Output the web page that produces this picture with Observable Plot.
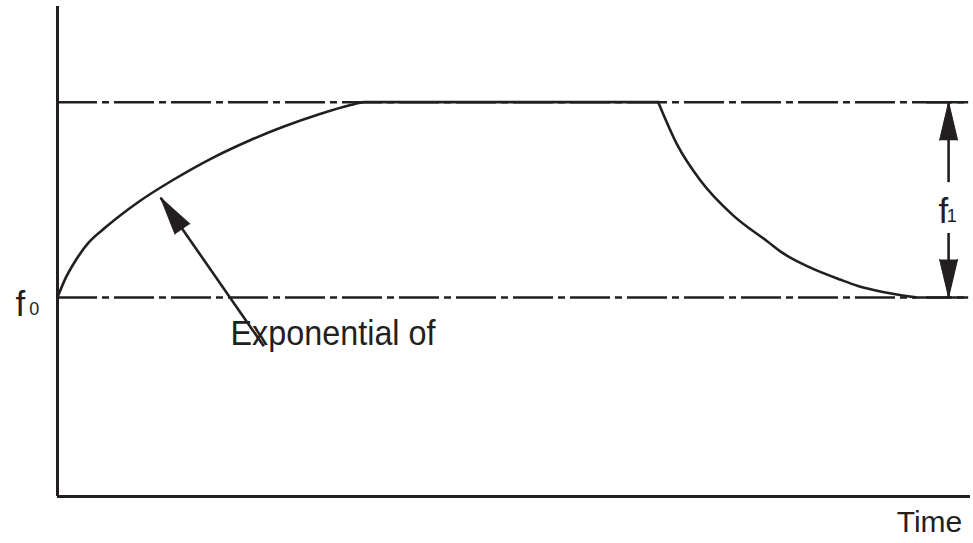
<!DOCTYPE html>
<html><head><meta charset="utf-8">
<script src="https://cdn.jsdelivr.net/npm/d3@7"></script>
<script src="https://cdn.jsdelivr.net/npm/@observablehq/plot@0.6"></script>
<style>body{margin:0;background:#fff}</style>
</head><body><div id="chart"></div>
<script>
// ---- data (time units 0..100, response in units of f1 above f0) ----
const levels = [0, 1];                       // f0 and f0 + f1
// rise towards f0 + f1, then hold (plateau)
const riseT = [0, 0.9, 2.0, 3.4, 5.3, 8.9, 12.6, 17.0, 21.1, 24.8, 28.5, 32.1, 33.6, 65.8];
const riseF = [0, 0.10, 0.19, 0.28, 0.36, 0.49, 0.60, 0.715, 0.805, 0.875, 0.935, 0.985, 1.0, 1.0];
// decay back to f0
const decayT = [65.8, 67.9, 70.4, 74.0, 77.8, 79.5, 82.1, 85.8, 87.6, 89.4, 94.0];
const decayF = [1.0, 0.78, 0.60, 0.42, 0.285, 0.225, 0.16, 0.09, 0.06, 0.038, 0];

// annotation arrows (tail -> tip, data units)
const arrowX1 = [22.6, 97.6, 97.6];
const arrowY1 = [-0.25, 0.59, 0.33];
const arrowX2 = [11.3, 97.6, 97.6];
const arrowY2 = [0.51, 1.0, 0];

// labels
const labelText = ["f", "Exponential of", "f"];
const labelT = [-4.6, 18.95, 96.5];
const labelF = [-0.097, -0.246, 0.38];
const subText = ["0", "1"];
const subT = [-3.1, 97.4];
const subF = [-0.092, 0.385];
const xLabel = "Time";
const xLabelT = 99.1;
const xLabelF = -1.2;

// ---- build ----
const W = 973, H = 543, mL = 57, mR = 3, mT = 6, mB = 47;
const xDomain = [0, 100], yDomain = [-1.02, 1.49];
const pxX = (W - mL - mR) / (xDomain[1] - xDomain[0]);
const pxY = (H - mT - mB) / (yDomain[1] - yDomain[0]);
const ink = "#231f20";
const font = "'Liberation Sans', Arial, sans-serif";
const textWidths = {"Exponential of": 205};

const curve = [
  ...riseT.map((t, i) => ({t, f: riseF[i], phase: "rise"})),
  ...decayT.map((t, i) => ({t, f: decayF[i], phase: "decay"}))
];
const arrows = arrowX1.map((x1, i) => {
  const x2 = arrowX2[i], y1 = arrowY1[i], y2 = arrowY2[i];
  const rot = Math.atan2((x2 - x1) * pxX, (y2 - y1) * pxY) * 180 / Math.PI;
  return {x1, y1, x2, y2, rot};
});
const labels = labelText.map((text, i) => ({text, t: labelT[i], f: labelF[i]}));
const subs = subText.map((text, i) => ({text, t: subT[i], f: subF[i]}));

const chart = Plot.plot({
  width: W, height: H,
  marginLeft: mL, marginRight: mR, marginTop: mT, marginBottom: mB,
  x: {domain: xDomain, axis: null},
  y: {domain: yDomain, axis: null},
  style: {background: "#fff", fontFamily: font},
  marks: [
    Plot.ruleY(levels, {x1: 0, x2: 99.8, stroke: ink, strokeWidth: 2.5, strokeDasharray: "40,5,7,5"}),
    Plot.ruleY(levels, {x1: 95.2, x2: 99.8, stroke: ink, strokeWidth: 2.5}),
    Plot.ruleX([0], {y1: yDomain[0], y2: yDomain[1], stroke: ink, strokeWidth: 3}),
    Plot.ruleY([yDomain[0]], {x1: 0, x2: 100, stroke: ink, strokeWidth: 3}),
    Plot.line(curve, {x: "t", y: "f", z: "phase", curve: "monotone-x", stroke: ink, strokeWidth: 2.6}),
    Plot.link(arrows, {x1: "x1", y1: "y1", x2: "x2", y2: "y2", stroke: ink, strokeWidth: 2.6}),
    Plot.vector(arrows, {x: "x2", y: "y2", rotate: "rot", length: 38, r: 9, shape: "spike", anchor: "end", fill: ink, stroke: ink, strokeWidth: 1}),
    Plot.text(labels, {x: "t", y: "f", text: "text", textAnchor: "start", lineAnchor: "bottom", fontSize: 35, fill: ink}),
    Plot.text(subs, {x: "t", y: "f", text: "text", textAnchor: "start", lineAnchor: "bottom", fontSize: 18, fill: ink}),
    Plot.text([xLabel], {x: xLabelT, y: xLabelF, text: d => d, textAnchor: "end", lineAnchor: "bottom", fontSize: 30, fill: ink})
  ]
});
// condensed lettering as in the reference
chart.querySelectorAll("text").forEach(el => {
  const w = textWidths[el.textContent];
  if (w) { el.setAttribute("textLength", w); el.setAttribute("lengthAdjust", "spacingAndGlyphs"); }
});
document.getElementById("chart").appendChild(chart);
</script>
</body></html>
